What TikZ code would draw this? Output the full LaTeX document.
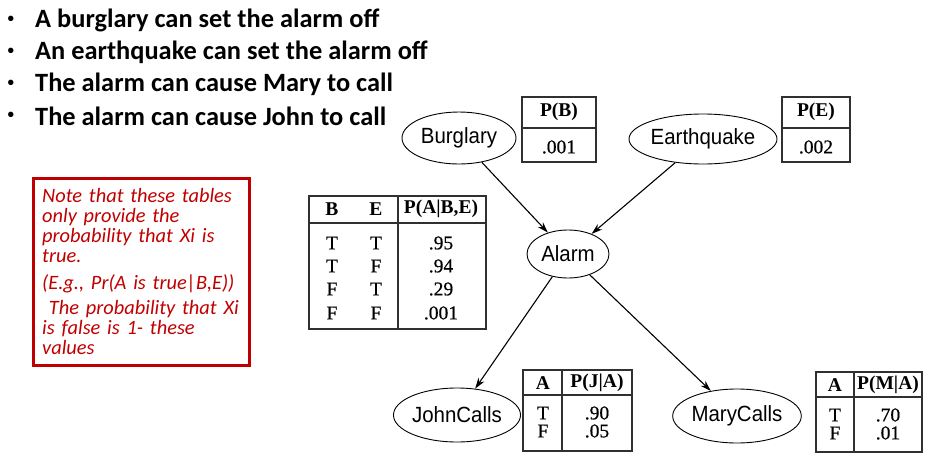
\documentclass[tikz,border=0pt]{standalone}
\usepackage{fontspec}
\setmainfont{Liberation Serif}
\newfontfamily\calfont{Carlito}
\newfontfamily\helfont[FakeStretch=0.93]{Liberation Sans}
\newfontfamily\dotfont{Liberation Sans}
\newfontfamily\tblfont[FakeBold=0.6]{Liberation Serif}
\usetikzlibrary{arrows.meta,shapes.geometric}
\definecolor{notered}{HTML}{C00000}
\definecolor{tblgray}{HTML}{303030}
\begin{document}
\begin{tikzpicture}[x=1pt,y=-1pt,
  bullettext/.style={anchor=west,font=\calfont\bfseries\fontsize{26.4}{30}\selectfont,inner sep=0pt},
  bulletdot/.style={font=\dotfont\fontsize{20}{22}\selectfont,inner sep=0pt},
  var/.style={draw,ellipse,line width=0.9pt,inner sep=0pt,font=\helfont\fontsize{22}{24}\selectfont},
  tblbox/.style={draw=tblgray,line width=1.2pt},
  tblhead/.style={line width=2.6pt,draw=tblgray},
  hd/.style={font=\bfseries\fontsize{19.5}{21}\selectfont,inner sep=0pt},
  cell/.style={font=\tblfont\fontsize{19.5}{21}\selectfont,inner sep=0pt},
  edge/.style={-{Stealth[length=11pt,width=7pt]},line width=1.1pt}]
\useasboundingbox (0,0) rectangle (938,472);
% bullets
\foreach \t/\yy [count=\i] in {A burglary can set the alarm off/20,An earthquake can set the alarm off/52,The alarm can cause Mary to call/84,The alarm can cause John to call/116}{
  \node[bulletdot] (dot\i) at (11,\yy+1) {•};
  \node[bullettext] (bt\i) at (35,\yy) {\t};
}
% note box
\draw[notered,line width=3pt] (33,178) rectangle (249,365);
\node[anchor=north west,inner sep=0pt,text=notered,font=\calfont\itshape\fontsize{20.4}{20}\selectfont,align=left,text width=212pt] (note) at (42,188)
{Note that these tables\\only provide the\\probability that Xi is\\true.\\[7pt](E.g., Pr(A is true|B,E))\\[5pt]\ The probability that Xi\\is false is 1- these\\values};
% ellipses
\node[var,minimum width=114pt,minimum height=52pt] (burg) at (459,138) {Burglary};
\node[var,minimum width=146pt,minimum height=50pt] (earth) at (703,139) {Earthquake};
\node[var,minimum width=82pt,minimum height=48pt] (alarm) at (568,254) {Alarm};
\node[var,minimum width=126pt,minimum height=54pt] (john) at (457,415) {JohnCalls};
\node[var,minimum width=124pt,minimum height=54pt] (mary) at (737,416) {MaryCalls};
\draw[edge] (burg) -- (alarm);
\draw[edge] (earth) -- (alarm);
\draw[edge] (alarm) -- (john);
\draw[edge] (alarm) -- (mary);
% P(B)
\draw[tblbox] (522,97) rectangle (596,162);
\draw[tblhead] (522,128) -- (596,128);
\node[hd] (pbh) at (559,112) {P(B)};
\node[cell] (pbv) at (559,147) {.001};
% P(E)
\draw[tblbox] (782,97) rectangle (850,162);
\draw[tblhead] (782,128) -- (850,128);
\node[hd] (peh) at (816,112) {P(E)};
\node[cell] (pev) at (816,147) {.002};
% alarm CPT
\draw[tblbox] (309,196) rectangle (486,329);
\draw[tblhead] (309,223) -- (486,223);
\draw[tblbox] (398,196) -- (398,329);
\node[hd] (ab) at (332,209) {B};
\node[hd] (ae) at (376,209) {E};
\node[hd] (ap) at (441,209) {P(A|B,E)};
\foreach \b/\e/\p/\yy [count=\i] in {T/T/.95/243,T/F/.94/266,F/T/.29/289,F/F/.001/313}{
  \node[cell] (ab\i) at (332,\yy) {\b};
  \node[cell] (ae\i) at (376,\yy) {\e};
  \node[cell] (ap\i) at (441,\yy) {\p};
}
% John CPT
\draw[tblbox] (523,370) rectangle (632,451);
\draw[tblhead] (523,395) -- (632,395);
\draw[tblbox] (562,370) -- (562,451);
\node[hd] (jah) at (543,383) {A};
\node[hd] (jph) at (597,383) {P(J|A)};
\node[cell] (ja1) at (543,413) {T};
\node[cell] (ja2) at (543,431) {F};
\node[cell] (jp1) at (597,413) {.90};
\node[cell] (jp2) at (597,431) {.05};
% Mary CPT
\draw[tblbox] (816,372) rectangle (922,452);
\draw[tblhead] (816,397) -- (922,397);
\draw[tblbox] (854,372) -- (854,452);
\node[hd] (mah) at (835,385) {A};
\node[hd] (mph) at (888,385) {P(M|A)};
\node[cell] (ma1) at (835,415) {T};
\node[cell] (ma2) at (835,433) {F};
\node[cell] (mp1) at (888,415) {.70};
\node[cell] (mp2) at (888,433) {.01};
\end{tikzpicture}
\end{document}
